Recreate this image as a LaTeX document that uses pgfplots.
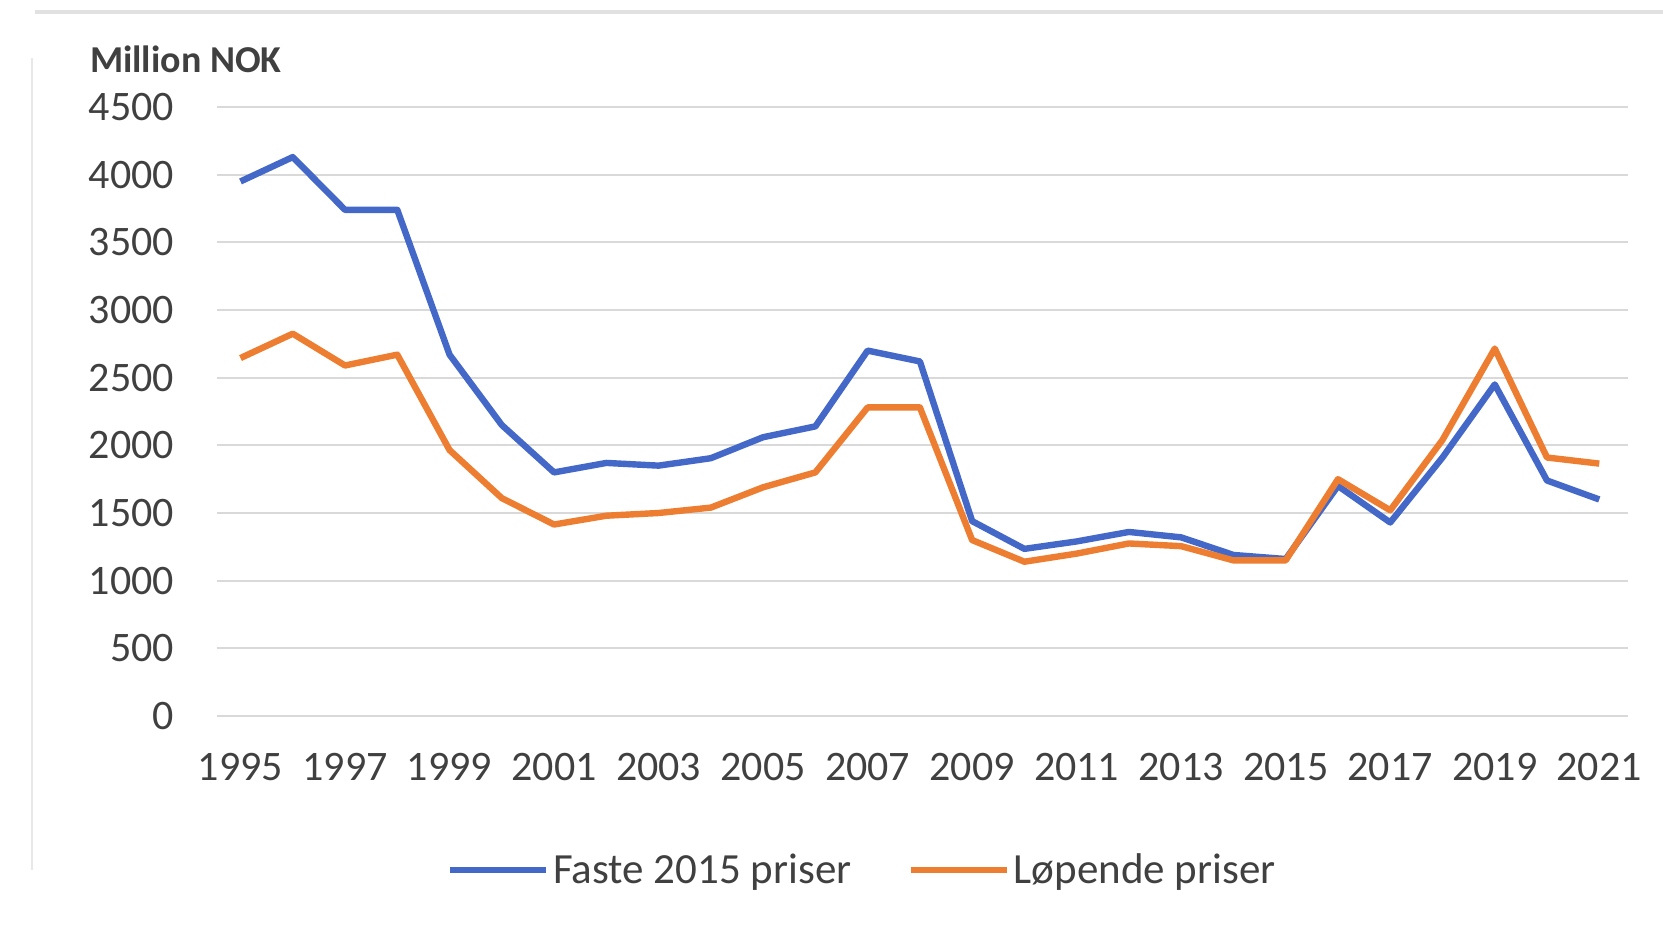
\documentclass[border=0pt]{standalone}
\usepackage{pgfplots}
\pgfplotsset{compat=1.18}
\usepackage{fontspec}
\setmainfont{Carlito}
\definecolor{cblue}{HTML}{4468C8}
\definecolor{corange}{HTML}{ED7D31}
\definecolor{cgrid}{HTML}{D9D9D9}
\definecolor{ctext}{HTML}{404040}
\begin{document}
\begin{tikzpicture}
\useasboundingbox (-108.5pt,-111pt) rectangle (723pt,358pt);
\draw[cgrid!80!white, line width=1.6pt] (-91pt,352pt) -- (723pt,352pt);
\draw[cgrid!60!white, line width=1.2pt] (-92.5pt,329pt) -- (-92.5pt,-77pt);
\begin{axis}[
  scale only axis,
  width=705.5pt, height=304.5pt,
  xmin=1994.55, xmax=2021.55,
  ymin=0, ymax=4500,
  axis line style={draw=none},
  tick style={draw=none},
  ytick={0,500,...,4500},
  xtick={1995,1997,...,2021},
  xticklabels={1995,1997,1999,2001,2003,2005,2007,2009,2011,2013,2015,2017,2019,2021},
  ymajorgrids,
  grid style={cgrid, line width=1pt},
  /pgf/number format/assume math mode=true,
  /pgf/number format/1000 sep={},
  ticklabel style={font=\fontsize{21}{24}\selectfont, text=ctext},
  yticklabel style={xshift=-18pt},
  xticklabel style={yshift=-15pt},
  clip=false,
  legend columns=2,
  legend style={draw=none, at={(rel axis cs:0.458,-0.253)}, anchor=center,
    font=\fontsize{21.5}{24}\selectfont, text=ctext,
    /tikz/every even column/.append style={column sep=26pt}},
  legend image code/.code={\draw[#1, line width=3.2pt] (0pt,0pt) -- (48pt,0pt);},
]
\addplot[cblue, line width=3.2pt, line join=round] coordinates {
(1995,3950) (1996,4130) (1997,3740) (1998,3740) (1999,2670) (2000,2150)
(2001,1800) (2002,1870) (2003,1850) (2004,1905) (2005,2060) (2006,2140)
(2007,2700) (2008,2620) (2009,1440) (2010,1235) (2011,1290) (2012,1360)
(2013,1320) (2014,1190) (2015,1160) (2016,1700) (2017,1430) (2018,1910)
(2019,2450) (2020,1740) (2021,1600)};
\addlegendentry{Faste 2015 priser}
\addplot[corange, line width=3.2pt, line join=round] coordinates {
(1995,2645) (1996,2825) (1997,2590) (1998,2670) (1999,1965) (2000,1610)
(2001,1415) (2002,1480) (2003,1500) (2004,1540) (2005,1690) (2006,1800)
(2007,2280) (2008,2280) (2009,1300) (2010,1140) (2011,1200) (2012,1275)
(2013,1255) (2014,1150) (2015,1150) (2016,1750) (2017,1520) (2018,2040)
(2019,2715) (2020,1910) (2021,1865)};
\addlegendentry{Løpende priser}
\node[anchor=west, font=\bfseries\fontsize{19}{22}\selectfont, text=ctext]
  at (rel axis cs:0,1) [xshift=-67pt, yshift=24pt] {Million NOK};
\end{axis}
\end{tikzpicture}
\end{document}
